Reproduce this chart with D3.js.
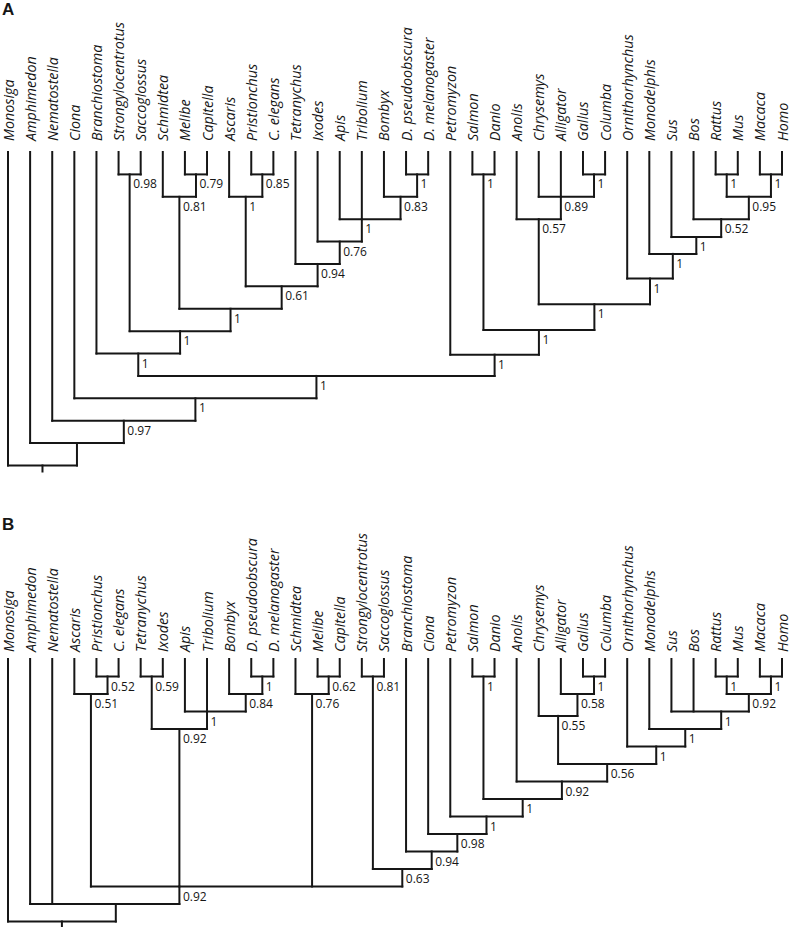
<!DOCTYPE html>
<html>
<head>
<meta charset="utf-8">
<script src="https://cdn.jsdelivr.net/npm/d3@7"></script>
<style>
  html, body { margin: 0; padding: 0; background: #fff; }
  svg { display: block; }
  text { -webkit-font-smoothing: antialiased; }
</style>
</head>
<body>
<div id="chart"></div>
<script>
// ---------- DATA ----------
// helper to build an internal node: h = height level, s = support, c = children, p = pivot child (polytomies)
function n(h, s, c, p) { return { h: h, s: s, c: c, p: p }; }

const panelLabels = ["A", "B"];

// Tree A (leaf order follows traversal)
const treeA = n(14, null, [
  "Monosiga",
  n(13, null, [
    "Amphimedon",
    n(12, "0.97", [
      "Nematostella",
      n(11, "1", [
        "Ciona",
        n(10, "1", [
          n(9, "1", [
            "Branchiostoma",
            n(8, "1", [
              n(1, "0.98", ["Strongylocentrotus", "Saccoglossus"]),
              n(7, "1", [
                n(2, "0.81", ["Schmidtea", n(1, "0.79", ["Melibe", "Capitella"])]),
                n(6, "0.61", [
                  n(2, "1", ["Ascaris", n(1, "0.85", ["Pristionchus", "C. elegans"])]),
                  n(5, "0.94", [
                    "Tetranychus",
                    n(4, "0.76", [
                      "Ixodes",
                      n(3, "1", [
                        "Apis", "Tribolium",
                        n(2, "0.83", ["Bombyx", n(1, "1", ["D. pseudoobscura", "D. melanogaster"])])
                      ], 1)
                    ])
                  ])
                ])
              ])
            ])
          ]),
          n(9.05, "1", [
            "Petromyzon",
            n(7.95, "1", [
              n(1, "1", ["Salmon", "Danio"]),
              n(6.8, "1", [
                n(3, "0.57", [
                  "Anolis",
                  n(2, "0.89", ["Chrysemys", "Alligator", n(1, "1", ["Gallus", "Columba"])], 1)
                ]),
                n(5.65, "1", [
                  "Ornithorhynchus",
                  n(4.55, "1", [
                    "Monodelphis",
                    n(3.8, "1", [
                      "Sus",
                      n(3, "0.52", [
                        "Bos",
                        n(2, "0.95", [n(1, "1", ["Rattus", "Mus"]), n(1, "1", ["Macaca", "Homo"])])
                      ])
                    ])
                  ])
                ])
              ])
            ])
          ])
        ])
      ])
    ])
  ])
]);

// Tree B
const treeB = n(15, null, [
  "Monosiga",
  n(14, null, [
    "Amphimedon", "Nematostella",
    n(13, "0.92", [
      n(2, "0.51", ["Ascaris", n(1, "0.52", ["Pristionchus", "C. elegans"])]),
      n(4, "0.92", [
        n(1, "0.59", ["Tetranychus", "Ixodes"]),
        n(3, "1", [
          "Apis", "Tribolium",
          n(2, "0.84", ["Bombyx", n(1, "1", ["D. pseudoobscura", "D. melanogaster"])])
        ], 1)
      ]),
      n(2, "0.76", ["Schmidtea", n(1, "0.62", ["Melibe", "Capitella"])]),
      n(12, "0.63", [
        n(1, "0.81", ["Strongylocentrotus", "Saccoglossus"]),
        n(11, "0.94", [
          "Branchiostoma",
          n(10, "0.98", [
            "Ciona",
            n(9, "1", [
              "Petromyzon",
              n(8, "1", [
                n(1, "1", ["Salmon", "Danio"]),
                n(7, "0.92", [
                  "Anolis",
                  n(6, "0.56", [
                    n(3.25, "0.55", ["Chrysemys", n(2, "0.58", ["Alligator", n(1, "1", ["Gallus", "Columba"])])]),
                    n(5, "1", [
                      "Ornithorhynchus",
                      n(4, "1", [
                        "Monodelphis",
                        n(3, "1", [
                          "Sus", "Bos",
                          n(2, "0.92", [n(1, "1", ["Rattus", "Mus"]), n(1, "1", ["Macaca", "Homo"])])
                        ], 1.5)
                      ])
                    ])
                  ])
                ])
              ])
            ])
          ])
        ])
      ])
    ], 1)
  ], 1.5)
]);

const panels = [
  { label: panelLabels[0], tree: treeA, maxH: 14, labelY: 15, top: 152, bottom: 465.5, textGap: 11 },
  { label: panelLabels[1], tree: treeB, maxH: 15, labelY: 530, top: 659, bottom: 921.5, textGap: 7 }
];

// ---------- DRAW ----------
const W = 792, H = 927;
const svg = d3.select("#chart").append("svg").attr("width", W).attr("height", H);
const INK = "#161616";

panels.forEach(function (P) {
  const g = svg.append("g");
  const leaves = [];
  (function walk(nd) {
    if (typeof nd === "string") { leaves.push(nd); return; }
    nd.c.forEach(walk);
  })(P.tree);

  const x = d3.scaleLinear().domain([0, leaves.length - 1]).range([8, 782]);
  const y = d3.scaleLinear().domain([0, P.maxH]).range([P.top, P.bottom]);

  let idx = 0;
  function layout(nd) {
    if (typeof nd === "string") {
      return { leaf: true, name: nd, x: x(idx++), y: y(0) };
    }
    const kids = nd.c.map(layout);
    let nx;
    if (kids.length === 2) nx = (kids[0].x + kids[1].x) / 2;
    else {
      const p = nd.p == null ? 1 : nd.p;
      const a = kids[Math.floor(p)], b = kids[Math.ceil(p)];
      nx = (a.x + b.x) / 2;
    }
    return { leaf: false, x: nx, y: y(nd.h), s: nd.s, kids: kids };
  }
  const root = layout(P.tree);

  const segs = [];
  const supports = [];
  const leafNodes = [];
  (function collect(nd) {
    if (nd.leaf) { leafNodes.push(nd); return; }
    const xs = nd.kids.map(k => k.x);
    segs.push([d3.min(xs), nd.y, d3.max(xs), nd.y]);
    nd.kids.forEach(k => {
      segs.push([k.x, k.y, k.x, nd.y]);
      collect(k);
    });
    if (nd.s) supports.push(nd);
  })(root);
  segs.push([root.x, root.y, root.x, root.y + 6]);

  g.selectAll("line.branch").data(segs).enter().append("line")
    .attr("class", "branch")
    .attr("x1", d => d[0]).attr("y1", d => d[1])
    .attr("x2", d => d[2]).attr("y2", d => d[3])
    .attr("stroke", INK).attr("stroke-width", 2)
    .attr("stroke-linecap", "square");

  // support values (group with slight opacity -> grayscale antialiasing)
  const sg = g.append("g").attr("opacity", 0.995);
  sg.selectAll("text.sup").data(supports).enter().append("text")
    .attr("class", "sup")
    .attr("x", d => d.x + 3.5)
    .attr("y", d => d.y + 14)
    .attr("font-family", "'Open Sans', Lato, sans-serif")
    .attr("font-size", 12)
    .attr("fill", INK)
    .text(d => d.s);

  g.selectAll("text.leaf").data(leafNodes).enter().append("text")
    .attr("class", "leaf")
    .attr("transform", d => "translate(" + (d.x + 5.5) + "," + (P.top - P.textGap) + ") rotate(-90)")
    .attr("font-family", "'Open Sans', Lato, sans-serif")
    .attr("font-style", "italic")
    .attr("font-size", 14.3)
    .attr("fill", INK)
    .text(d => d.name);

  g.append("g").attr("opacity", 0.995).append("text")
    .attr("x", 2).attr("y", P.labelY)
    .attr("font-family", "'Liberation Sans', Arial, sans-serif")
    .attr("font-weight", "bold")
    .attr("font-size", 17)
    .attr("fill", INK)
    .text(P.label);
});
</script>
</body>
</html>
